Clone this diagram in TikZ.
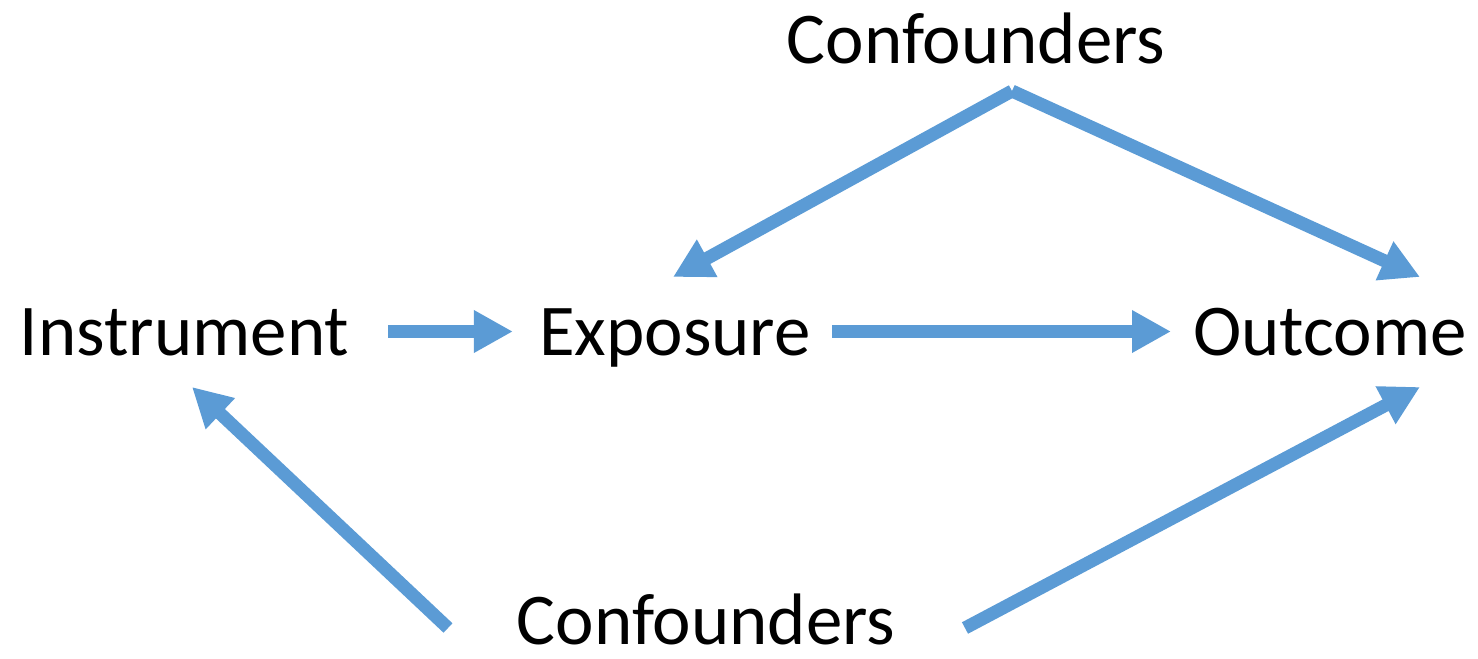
\documentclass[tikz,border=0pt]{standalone}
\usepackage{fontspec}
\setmainfont{Carlito}
\usepackage{tikz}
\usetikzlibrary{arrows.meta, positioning, calc}
\definecolor{dagblue}{HTML}{5B9BD5}

\begin{document}
\begin{tikzpicture}[
  x=0.02cm, y=-0.02cm,
  lbl/.style={inner sep=0pt, anchor=base, text height=0.94cm, text depth=0pt,
              font=\fontsize{41.5}{50}\selectfont},
  thk/.style={-{Triangle[length=0.78cm,width=0.8cm]}, line width=0.26cm, draw=dagblue},
]
\useasboundingbox (0,0) rectangle (1478,659);

%% ---- Variables ----
\node[lbl] (ins)  at ( 184.5, 355) {Instrument};
\node[lbl] (exp)  at ( 675,   355) {Exposure};
\node[lbl] (out)  at (1330,   355) {Outcome};
\node[lbl] (ctop) at ( 976,    63) {Confounders};
\node[lbl] (cbot) at ( 706,   644) {Confounders};

%% ---- Arrow ends ----
\coordinate (apex)  at (1012,  91);
\coordinate (exp-n) at ( 673, 277);
\coordinate (out-n) at (1420, 277);
\coordinate (out-s) at (1420, 387);
\coordinate (ins-s) at ( 192, 387);
\coordinate (cb-l)  at ( 448, 628);
\coordinate (cb-r)  at ( 965, 628);

%% ---- Causal path ----
\draw[thk, shorten <=0.78cm, shorten >=0.52cm] (ins.east) -- (exp.west);
\draw[thk, shorten <=0.42cm, shorten >=0.44cm] (exp.east) -- (out.west);

%% ---- Confounding ----
\draw[thk] (apex) -- (exp-n);
\draw[thk] (apex) -- (out-n);
\draw[thk] (cb-l) -- (ins-s);
\draw[thk] (cb-r) -- (out-s);
\end{tikzpicture}
\end{document}
